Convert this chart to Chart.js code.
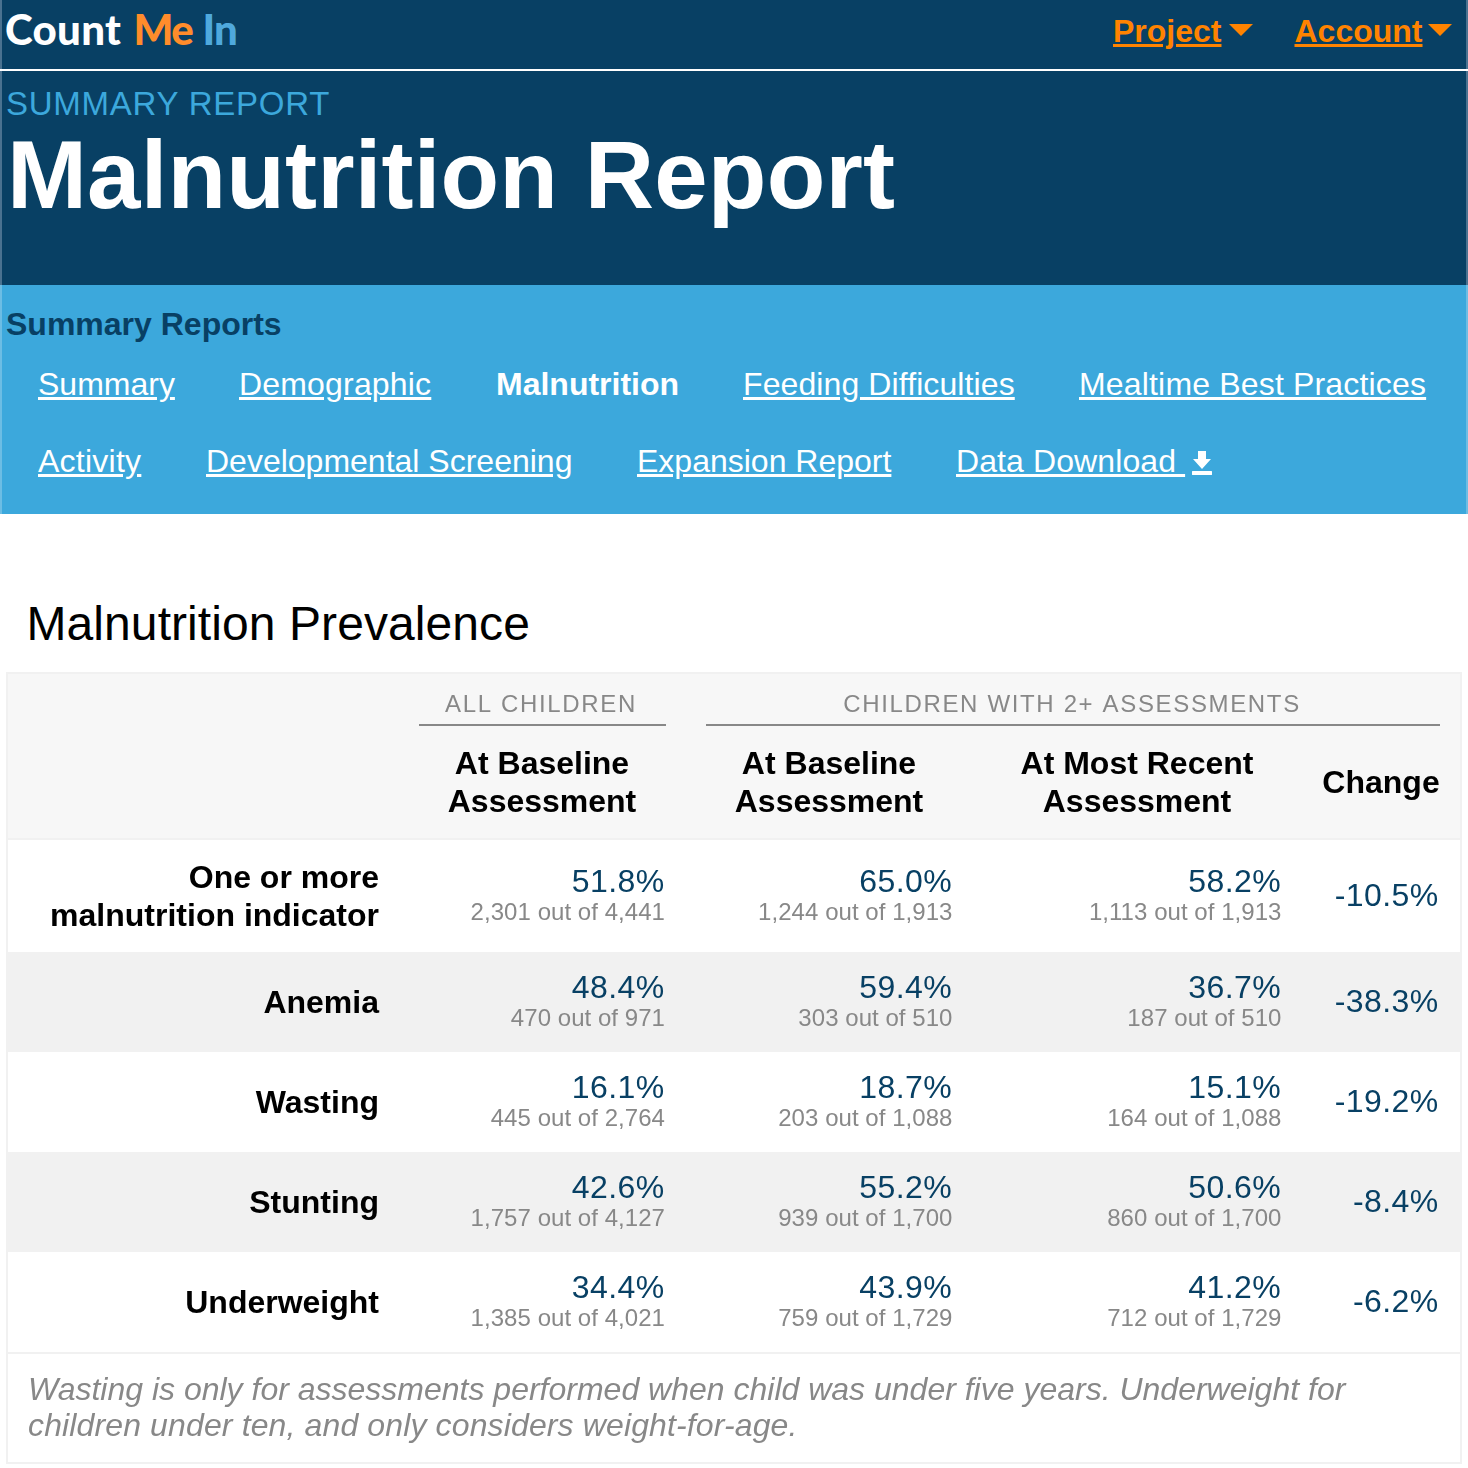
<!DOCTYPE html>
<html>
<head>
<meta charset="utf-8">
<title>Malnutrition Report</title>
<script src="https://cdn.jsdelivr.net/npm/chart.js@4"></script>
<style>
  html, body { margin: 0; padding: 0; background: #fff; }
  body { position: relative; width: 1468px; height: 1468px; overflow: hidden; font-family: "Liberation Sans", Arial, sans-serif; }
  .abs { position: absolute; white-space: nowrap; }
  #top-bar { position: absolute; box-sizing: border-box; left: 0; top: 0; width: 1468px; height: 285px; background: #084064; border-left: 2px solid #4a7290; border-right: 2px solid #4a7290; }
  #top-line { position: absolute; left: 0; top: 69px; width: 1468px; height: 2px; background: #fff; }
  #sub-bar { position: absolute; box-sizing: border-box; left: 0; top: 285px; width: 1468px; height: 229px; background: #3ca8dc; border-left: 2px solid #6cbde4; border-right: 2px solid #6cbde4; }
  .logo { left: 5px; top: 4px; font: 900 42px/50px Lato, sans-serif; letter-spacing: 0.3px; color: #fff; }
  .logo .m { color: #ff8c2b; margin-left: 2px; letter-spacing: -1.5px; }
  .logo .i { color: #4fa9dd; letter-spacing: -1px; }
  .menu { top: 12px; font: bold 32px/38px "Liberation Sans", sans-serif; color: #ff8300; text-decoration: underline; }
  .caret { position: absolute; top: 24px; width: 0; height: 0; border-left: 12px solid transparent; border-right: 12px solid transparent; border-top: 12px solid #ff8300; }
  .kicker { left: 6px; top: 85px; font: 33px/38px "Liberation Sans", sans-serif; letter-spacing: 0.75px; color: #3ca8dc; }
  .title { left: 7px; top: 119px; font: bold 96px/112px "Liberation Sans", sans-serif; letter-spacing: 0.15px; color: #fff; }
  .nav-head { left: 6px; top: 305px; font: bold 32px/38px "Liberation Sans", sans-serif; color: #084064; }
  .nav { font: 32px/38px "Liberation Sans", sans-serif; color: #fff; text-decoration: underline; }
  .nav.on { font-weight: bold; text-decoration: none; }
  .section { left: 26.5px; top: 595px; font: 48px/58px "Liberation Sans", sans-serif; letter-spacing: 0.08px; color: #000; }
  #table-chart { position: absolute; left: 0; top: 660px; }
  .note { left: 28px; top: 1371px; font: italic 32px/36px "Liberation Sans", sans-serif; color: #888; }
</style>
</head>
<body>
<div id="top-bar"></div>
<div id="top-line"></div>
<div id="sub-bar"></div>
<div class="abs logo">Count <span class="m">Me</span> <span class="i">In</span></div>
<div class="abs menu" style="left:1113px">Project</div>
<div class="caret" style="left:1229px"></div>
<div class="abs menu" style="left:1294.5px">Account</div>
<div class="caret" style="left:1428px"></div>
<div class="abs kicker">SUMMARY REPORT</div>
<div class="abs title">Malnutrition Report</div>
<div class="abs nav-head">Summary Reports</div>
<div class="abs nav" style="left:38px;top:365px">Summary</div>
<div class="abs nav" style="left:239px;top:365px;letter-spacing:.18px">Demographic</div>
<div class="abs nav on" style="left:496px;top:365px">Malnutrition</div>
<div class="abs nav" style="left:743px;top:365px;letter-spacing:.1px">Feeding Difficulties</div>
<div class="abs nav" style="left:1079px;top:365px;letter-spacing:.17px">Mealtime Best Practices</div>
<div class="abs nav" style="left:38px;top:442px;letter-spacing:.25px">Activity</div>
<div class="abs nav" style="left:206px;top:442px">Developmental Screening</div>
<div class="abs nav" style="left:637px;top:442px">Expansion Report</div>
<div class="abs nav" style="left:956px;top:442px;letter-spacing:.1px">Data Download&nbsp;</div>
<svg class="abs" style="left:1192px;top:450px" width="20" height="26" viewBox="0 0 20 26">
  <path d="M6 1h8v8h5l-9 10L1 9h5z M1 21h18a1.5 1.5 0 0 1 0 4H1a1.5 1.5 0 0 1 0-4z" fill="#fff"/>
</svg>
<div class="abs section">Malnutrition Prevalence</div>
<canvas id="table-chart" width="1468" height="808"></canvas>
<div class="abs note">Wasting is only for assessments performed when child was under five years. Underweight for<br><span style="letter-spacing:.13px">children under ten, and only considers weight-for-age.</span></div>

<script>
// Rows and columns
const rowLabels = [["One or more", "malnutrition indicator"], "Anemia", "Wasting", "Stunting", "Underweight"];
const columnLabels = [["At Baseline", "Assessment"], ["At Baseline", "Assessment"], ["At Most Recent", "Assessment"], "Change"];
const groupLabels = ["ALL CHILDREN", "CHILDREN WITH 2+ ASSESSMENTS"];

// Percent values per column
const allBaselinePct = [51.8, 48.4, 16.1, 42.6, 34.4];
const twoBaselinePct = [65.0, 59.4, 18.7, 55.2, 43.9];
const twoRecentPct = [58.2, 36.7, 15.1, 50.6, 41.2];
const changePct = [-10.5, -38.3, -19.2, -8.4, -6.2];

// Counts behind the percents
const allBaselineCount = [2301, 470, 445, 1757, 1385];
const allBaselineTotal = [4441, 971, 2764, 4127, 4021];
const twoBaselineCount = [1244, 303, 203, 939, 759];
const twoRecentCount = [1113, 187, 164, 860, 712];
const twoTotal = [1913, 510, 1088, 1700, 1729];

// Table layout, in page pixels
const plotLeft = 389;
const plotTop = 839;
const rowHeights = [113, 100, 100, 100, 100];
const columnRight = [664.5, 952, 1281, 1438.5];
const columnCentre = [542, 829, 1137, 1381];
const rowTextNudge = [2, 1, 1, 1, 1];

const rowEdges = rowHeights.reduce((acc, h) => { acc.push(acc[acc.length - 1] + h); return acc; }, [0]);
const rowMiddles = rowHeights.map((h, i) => rowEdges[i] + h / 2);

const NAVY = "#084064";
const GREY = "#888888";
const FONT = '"Liberation Sans", Arial, sans-serif';

const fmt = (n) => n.toLocaleString("en-US");
const outOf = (counts, totals) => counts.map((c, i) => fmt(c) + " out of " + fmt(totals[i]));

const makeColumn = (c, pct, sub) => ({
  data: pct.map((v, i) => ({ x: columnRight[c] - plotLeft, y: rowMiddles[i] + rowTextNudge[i], pct: v, sub: sub ? sub[i] : null })),
  pointRadius: 0
});

// Draws the table backgrounds, rules and group headings behind the cells
const tableFrame = {
  id: "tableFrame",
  beforeDraw(chart) {
    const { ctx, scales: { y } } = chart;
    const oy = chart.canvas.offsetTop;
    const band = (top, bottom, color) => {
      ctx.fillStyle = color;
      ctx.fillRect(8, top, 1452, bottom - top);
    };
    ctx.save();
    ctx.fillStyle = "#f1f1f1";
    ctx.fillRect(6, 672 - oy, 1456, 792);
    ctx.fillStyle = "#fff";
    ctx.fillRect(8, 674 - oy, 1452, 788);
    band(674 - oy, 838 - oy, "#f7f7f7");
    rowHeights.forEach((h, i) => {
      band(y.getPixelForValue(rowEdges[i]), y.getPixelForValue(rowEdges[i + 1]), i % 2 ? "#f1f1f1" : "#fff");
    });
    band(838 - oy, 840 - oy, "#f1f1f1");
    band(1352 - oy, 1354 - oy, "#f1f1f1");

    ctx.fillStyle = GREY;
    ctx.fillRect(419, 724 - oy, 247, 2);
    ctx.fillRect(706, 724 - oy, 734, 2);
    ctx.font = "24px " + FONT;
    ctx.letterSpacing = "1.65px";
    ctx.textAlign = "center";
    ctx.textBaseline = "middle";
    ctx.fillText(groupLabels[0], 541, 705 - oy);
    ctx.fillText(groupLabels[1], 1072, 705 - oy);
    ctx.restore();
  }
};

// Writes each cell at the point the chart placed for it
const cellText = {
  id: "cellText",
  afterDatasetsDraw(chart) {
    const { ctx } = chart;
    ctx.save();
    ctx.textAlign = "right";
    ctx.textBaseline = "middle";
    chart.data.datasets.forEach((ds, d) => {
      chart.getDatasetMeta(d).data.forEach((pt, i) => {
        const cell = ds.data[i];
        const text = cell.pct.toFixed(1) + "%";
        ctx.font = "32px " + FONT;
        ctx.letterSpacing = "0.4px";
        ctx.fillStyle = NAVY;
        ctx.fillText(text, pt.x, cell.sub ? pt.y - 14 : pt.y);
        if (cell.sub) {
          ctx.font = "24px " + FONT;
          ctx.letterSpacing = "0.05px";
          ctx.fillStyle = GREY;
          ctx.fillText(cell.sub, pt.x + 0.5, pt.y + 16);
        }
      });
    });
    ctx.restore();
  }
};

document.addEventListener("DOMContentLoaded", () => {
  const ctx = document.getElementById("table-chart").getContext("2d");
  new Chart(ctx, {
    type: "scatter",
    data: {
      datasets: [
        makeColumn(0, allBaselinePct, outOf(allBaselineCount, allBaselineTotal)),
        makeColumn(1, twoBaselinePct, outOf(twoBaselineCount, twoTotal)),
        makeColumn(2, twoRecentPct, outOf(twoRecentCount, twoTotal)),
        makeColumn(3, changePct, null)
      ]
    },
    plugins: [tableFrame, cellText],
    options: {
      responsive: false,
      animation: false,
      layout: { padding: { top: 0, right: 0, bottom: 116, left: 0 } },
      plugins: { legend: { display: false }, tooltip: { enabled: false } },
      scales: {
        x: {
          type: "linear",
          position: "top",
          min: 0,
          max: 1468 - plotLeft,
          grid: { display: false, drawTicks: false },
          border: { display: false },
          // keep the plot full width, tick padding would otherwise shrink it
          afterFit: (scale) => {
            scale.height = plotTop - 660;
            scale.paddingLeft = 0;
            scale.paddingRight = 0;
          },
          afterBuildTicks: (scale) => { scale.ticks = columnCentre.map((c) => ({ value: c - plotLeft })); },
          ticks: {
            autoSkip: false,
            maxRotation: 0,
            padding: 36,
            crossAlign: "center",
            color: "#000",
            font: { family: FONT, size: 32, weight: "bold", lineHeight: 1.19 },
            callback: (value, i) => columnLabels[i]
          }
        },
        y: {
          type: "linear",
          reverse: true,
          min: 0,
          max: rowEdges[rowEdges.length - 1],
          grid: { display: false, drawTicks: false },
          border: { display: false },
          afterFit: (scale) => { scale.width = plotLeft; },
          afterBuildTicks: (scale) => { scale.ticks = rowMiddles.map((v, i) => ({ value: v + rowTextNudge[i] + 1 })); },
          ticks: {
            autoSkip: false,
            padding: 10,
            color: "#000",
            font: { family: FONT, size: 32, weight: "bold", lineHeight: 1.19 },
            callback: (value, i) => rowLabels[i]
          }
        }
      }
    }
  });
});
</script>
</body>
</html>
